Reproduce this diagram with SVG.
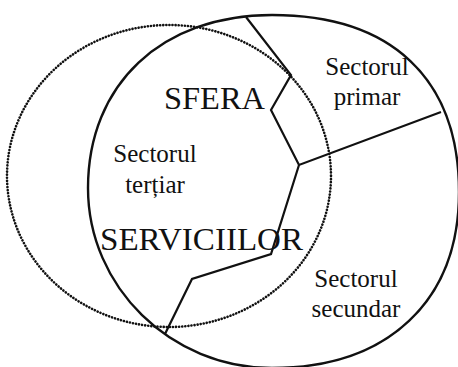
<svg xmlns="http://www.w3.org/2000/svg" width="458" height="367" viewBox="0 0 458 367">
<style>
.solid{fill:none;stroke:#111;stroke-width:2.4}
.dot{fill:none;stroke:#111;stroke-width:2.6;stroke-dasharray:0.1 3;stroke-linecap:round}
.line{fill:none;stroke:#111;stroke-width:2.2;stroke-linejoin:miter}
</style>
<rect width="458" height="367" fill="#fff"/>
<g id="sfera-servicii-boundary">
<ellipse class="dot" cx="169" cy="176" rx="162" ry="151"/>
</g>
<g id="economy-circle">
<path class="solid" d="M272,15 C391.7,15 459,78.7 459,192 C459,301 388,368 272,368 C170.8,368 88,287 88,188 C88,84.2 161.6,15 272,15 Z"/>
</g>
<g id="connectors">
<polyline class="line" points="246,17 291,75 271,110 299,165 441,112"/>
<polyline class="line" points="299,165 271,254 192,279 165,334"/>
</g>
<g id="label-sfera">
<text x="164" y="109" font-family="Liberation Serif, Times New Roman, serif" font-size="31" fill="#111" textLength="101" lengthAdjust="spacingAndGlyphs">SFERA</text>
</g>
<g id="label-serviciilor">
<text x="100" y="250" font-family="Liberation Serif, Times New Roman, serif" font-size="31" fill="#111" textLength="203" lengthAdjust="spacingAndGlyphs">SERVICIILOR</text>
</g>
<g id="sector-tertiar">
<text x="155" y="162" font-family="Liberation Serif, Times New Roman, serif" font-size="25" fill="#111" text-anchor="middle">Sectorul</text>
<text x="155" y="193" font-family="Liberation Serif, Times New Roman, serif" font-size="25" fill="#111" text-anchor="middle">terțiar</text>
</g>
<g id="sector-primar">
<text x="367" y="75" font-family="Liberation Serif, Times New Roman, serif" font-size="25" fill="#111" text-anchor="middle">Sectorul</text>
<text x="367" y="105" font-family="Liberation Serif, Times New Roman, serif" font-size="25" fill="#111" text-anchor="middle">primar</text>
</g>
<g id="sector-secundar">
<text x="356" y="287" font-family="Liberation Serif, Times New Roman, serif" font-size="25" fill="#111" text-anchor="middle">Sectorul</text>
<text x="356" y="317" font-family="Liberation Serif, Times New Roman, serif" font-size="25" fill="#111" text-anchor="middle">secundar</text>
</g>
</svg>
